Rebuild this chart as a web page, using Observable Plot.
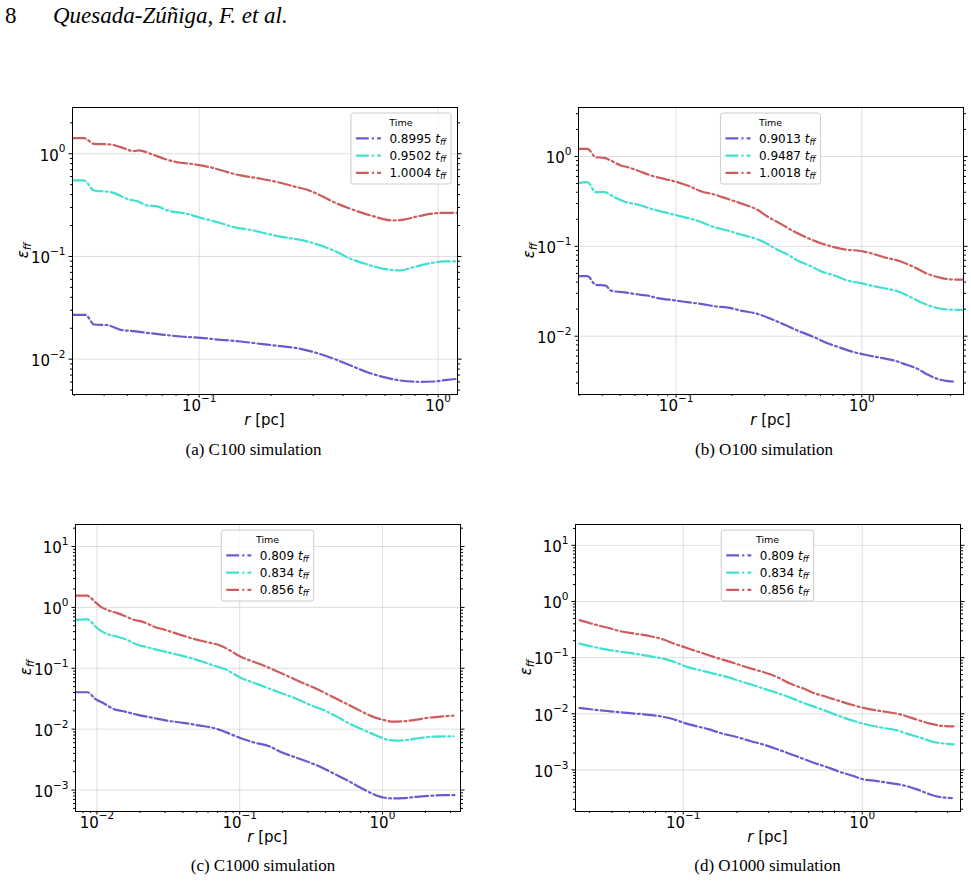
<!DOCTYPE html>
<html>
<head>
<meta charset="utf-8">
<script src="https://cdn.jsdelivr.net/npm/d3@7"></script>
<script src="https://cdn.jsdelivr.net/npm/@observablehq/plot@0.6"></script>
<style>
  html, body { margin: 0; padding: 0; background: #fff; }
  #page { position: relative; width: 971px; height: 881px; overflow: hidden; background: #fff; }
  .holder { position: absolute; }
  .holder svg { max-width: none; display: block; }
</style>
</head>
<body>
<div id="page"></div>
<script>
// ---- Star-formation efficiency per free-fall time vs radius, four simulations ----

// (a) C100
const c100Times = ["0.8995", "0.9502", "1.0004"];
const c100_t08995 = [[0.0296,0.027],[0.03345,0.027],[0.0363,0.02176],[0.0412,0.02144],[0.0469,0.0193],[0.0533,0.01874],[0.0606,0.01805],[0.0712,0.01726],[0.0836,0.01663],[0.1013,0.01614],[0.1228,0.01543],[0.149,0.01486],[0.1806,0.0141],[0.219,0.01338],[0.2655,0.01262],[0.3117,0.01144],[0.366,0.01009],[0.43,0.00868],[0.505,0.00747],[0.5925,0.00668],[0.6959,0.0062],[0.8436,0.00602],[0.959,0.00606],[1.09,0.0063],[1.201,0.00643]];
const c100_t09502 = [[0.0296,0.55],[0.0329,0.55],[0.0363,0.439],[0.0426,0.423],[0.0516,0.356],[0.055,0.346],[0.0606,0.314],[0.0667,0.307],[0.0735,0.281],[0.0891,0.26],[0.1013,0.238],[0.119,0.216],[0.1396,0.193],[0.1693,0.179],[0.1926,0.166],[0.226,0.154],[0.2655,0.145],[0.3117,0.131],[0.366,0.114],[0.43,0.0949],[0.505,0.0836],[0.5925,0.0758],[0.6959,0.0731],[0.791,0.0787],[0.929,0.0861],[1.056,0.0894],[1.201,0.0894]];
const c100_t10004 = [[0.0296,1.42],[0.0329,1.42],[0.0363,1.25],[0.0426,1.23],[0.0469,1.16],[0.0533,1.06],[0.0559,1.08],[0.0626,1.0],[0.0712,0.894],[0.0836,0.817],[0.092,0.799],[0.1013,0.77],[0.115,0.725],[0.131,0.663],[0.149,0.615],[0.1806,0.571],[0.212,0.53],[0.249,0.481],[0.283,0.446],[0.322,0.393],[0.366,0.338],[0.43,0.291],[0.521,0.251],[0.652,0.224],[0.718,0.228],[0.817,0.245],[0.929,0.26],[1.056,0.266],[1.201,0.266]];

// (b) O100
const o100Times = ["0.9013", "0.9487", "1.0018"];
const o100_t09013 = [[0.03002,0.04655],[0.0333,0.04655],[0.0369,0.0373],[0.0418,0.0366],[0.04445,0.0322],[0.0547,0.0304],[0.0645,0.02884],[0.0701,0.02836],[0.0793,0.0265],[0.0936,0.0254],[0.115,0.0239],[0.1358,0.0229],[0.1602,0.0216],[0.197,0.0205],[0.223,0.0193],[0.2742,0.01772],[0.3236,0.0156],[0.3817,0.01349],[0.4502,0.01156],[0.5537,0.00975],[0.6533,0.00836],[0.7707,0.00742],[0.9093,0.00664],[1.073,0.00614],[1.266,0.00574],[1.493,0.00536],[1.69,0.00492],[1.994,0.00433],[2.258,0.00374],[2.556,0.00335],[2.893,0.00316],[3.143,0.00313]];
const o100_t09487 = [[0.03002,0.509],[0.0333,0.518],[0.0369,0.401],[0.04095,0.401],[0.0464,0.353],[0.0525,0.3155],[0.0619,0.292],[0.0672,0.2776],[0.0761,0.255],[0.0862,0.24],[0.1017,0.2204],[0.12,0.2024],[0.1415,0.1811],[0.1602,0.1634],[0.189,0.15],[0.223,0.1354],[0.263,0.1233],[0.2979,0.1113],[0.337,0.0962],[0.3977,0.0811],[0.4502,0.0696],[0.5312,0.0601],[0.6014,0.0529],[0.7096,0.0474],[0.8372,0.0417],[0.9877,0.0389],[1.165,0.036],[1.375,0.0336],[1.556,0.0317],[1.762,0.0284],[2.079,0.0239],[2.453,0.021],[2.893,0.0198],[3.485,0.0196]];
const o100_t10018 = [[0.03002,1.217],[0.0333,1.217],[0.0369,0.983],[0.04095,0.966],[0.04445,0.903],[0.0503,0.794],[0.0547,0.761],[0.0619,0.699],[0.0731,0.615],[0.0862,0.564],[0.0975,0.531],[0.115,0.476],[0.1358,0.411],[0.1602,0.378],[0.189,0.338],[0.2324,0.292],[0.2742,0.255],[0.3103,0.215],[0.3662,0.178],[0.4319,0.146],[0.5098,0.1243],[0.6014,0.1084],[0.7096,0.0979],[0.8372,0.0914],[0.9478,0.0899],[1.118,0.0839],[1.319,0.0757],[1.622,0.0678],[1.913,0.0586],[2.258,0.0494],[2.664,0.0446],[3.143,0.0427],[3.485,0.0427]];

// (c) C1000
const c1000Times = ["0.809", "0.834", "0.856"];
const c1000_t0809 = [[0.00717,0.0404],[0.0086,0.0404],[0.00974,0.03137],[0.01114,0.02661],[0.01308,0.02148],[0.01537,0.01966],[0.01905,0.01733],[0.02492,0.01527],[0.0309,0.0138],[0.04044,0.01264],[0.0529,0.01142],[0.0656,0.01045],[0.073,0.00969],[0.0858,0.00833],[0.1008,0.00716],[0.125,0.00607],[0.1635,0.00515],[0.1921,0.00426],[0.238,0.00353],[0.2953,0.00295],[0.3661,0.00241],[0.4538,0.001875],[0.5627,0.001456],[0.6977,0.001103],[0.865,0.000857],[1.016,0.000755],[1.194,0.000727],[1.403,0.000736],[1.739,0.000774],[2.157,0.000804],[2.674,0.000825],[3.227,0.000825]];
const c1000_t0834 = [[0.00717,0.626],[0.0086,0.634],[0.00974,0.4867],[0.01055,0.418],[0.01207,0.3594],[0.0138,0.3333],[0.0162,0.2936],[0.01905,0.246],[0.0224,0.2223],[0.02775,0.196],[0.0363,0.1684],[0.0475,0.1429],[0.0589,0.1213],[0.0692,0.1069],[0.0813,0.0942],[0.0905,0.0809],[0.1063,0.0669],[0.1319,0.0554],[0.1635,0.0458],[0.2027,0.0379],[0.2513,0.03137],[0.3115,0.025],[0.3862,0.02067],[0.4789,0.01606],[0.5937,0.01216],[0.736,0.00969],[0.9127,0.00782],[1.072,0.00672],[1.26,0.00647],[1.48,0.00663],[1.835,0.00716],[2.275,0.00752],[3.142,0.00762]];
const c1000_t0856 = [[0.00717,1.556],[0.00851,1.556],[0.00974,1.224],[0.01055,1.039],[0.01207,0.892],[0.0138,0.807],[0.01537,0.738],[0.01806,0.626],[0.0212,0.5736],[0.02492,0.4867],[0.0309,0.418],[0.03833,0.3549],[0.0475,0.305],[0.0589,0.2688],[0.073,0.2368],[0.0858,0.196],[0.1008,0.156],[0.1184,0.1341],[0.1468,0.111],[0.182,0.0895],[0.2258,0.0713],[0.2798,0.0568],[0.347,0.0458],[0.43,0.0356],[0.533,0.02765],[0.661,0.02148],[0.82,0.01668],[1.016,0.01415],[1.194,0.01329],[1.403,0.01346],[1.739,0.01434],[2.044,0.01527],[2.533,0.01606],[3.142,0.01668]];

// (d) O1000
const o1000Times = ["0.809", "0.834", "0.856"];
const o1000_t0809 = [[0.02636,0.0127],[0.03155,0.01187],[0.03911,0.01108],[0.04844,0.01035],[0.06003,0.0098],[0.0744,0.00903],[0.0883,0.00798],[0.1004,0.00696],[0.1192,0.00598],[0.1415,0.00522],[0.161,0.00455],[0.1994,0.00386],[0.2367,0.00328],[0.2811,0.00282],[0.3197,0.00246],[0.3795,0.00203],[0.4503,0.001654],[0.5347,0.001346],[0.6348,0.001127],[0.7536,0.000918],[0.8944,0.000779],[0.983,0.000698],[1.207,0.000634],[1.433,0.000584],[1.702,0.000531],[2.02,0.000451],[2.398,0.000367],[2.728,0.000329],[3.169,0.000316]];
const o1000_t0834 = [[0.02636,0.1783],[0.03155,0.1554],[0.03911,0.1356],[0.04844,0.1232],[0.05751,0.1135],[0.0683,0.1031],[0.0811,0.0924],[0.0922,0.0806],[0.1048,0.0684],[0.1245,0.0596],[0.1477,0.052],[0.1754,0.0454],[0.1994,0.0396],[0.2367,0.0336],[0.2811,0.0281],[0.3337,0.02352],[0.3961,0.01942],[0.4702,0.0156],[0.558,0.01288],[0.6628,0.01049],[0.7863,0.00854],[0.9337,0.00715],[1.108,0.00624],[1.316,0.00559],[1.562,0.00508],[1.777,0.00443],[2.109,0.00376],[2.503,0.00315],[2.909,0.00294],[3.237,0.00286]];
const o1000_t0856 = [[0.02636,0.4648],[0.03155,0.3943],[0.03747,0.3439],[0.04446,0.2958],[0.0528,0.2688],[0.0654,0.2409],[0.0776,0.2101],[0.0883,0.1783],[0.1004,0.1554],[0.1142,0.1356],[0.1299,0.1183],[0.1477,0.1031],[0.1831,0.084],[0.2173,0.0703],[0.2579,0.0596],[0.3062,0.0506],[0.3481,0.0424],[0.3961,0.0345],[0.4702,0.0281],[0.5347,0.02352],[0.6348,0.01995],[0.7536,0.0167],[0.8944,0.01418],[1.062,0.01236],[1.26,0.01123],[1.496,0.01035],[1.702,0.0094],[2.02,0.00787],[2.398,0.00668],[2.847,0.00607],[3.237,0.00598]];

// Major tick values (labelled as powers of ten)
const xTicksC100 = [0.1, 1];
const xTicksO100 = [0.1, 1];
const xTicksC1000 = [0.01, 0.1, 1];
const xTicksO1000 = [0.1, 1];
const yTicksC100 = [0.01, 0.1, 1];
const yTicksO100 = [0.01, 0.1, 1];
const yTicksC1000 = [0.001, 0.01, 0.1, 1, 10];
const yTicksO1000 = [0.001, 0.01, 0.1, 1, 10];

const captions = ["(a) C100 simulation", "(b) O100 simulation", "(c) C1000 simulation", "(d) O1000 simulation"];
const headerPage = "8";
const headerAuthors = "Quesada-Zúñiga, F. et al.";

const lineColors = ["#6a5acd", "#40e0d0", "#cd5c5c"]; // slateblue, turquoise, indianred
const dashDot = "12.8,3.2,2,3.2";

const panels = [
  {left: 72,  top: 107, w: 385, h: 287, xDomain: [0.0295, 1.205], yDomain: [0.00453, 2.82],
   xTicks: xTicksC100, yTicks: yTicksC100, times: c100Times, series: [c100_t08995, c100_t09502, c100_t10004],
   legend: "right", caption: captions[0], capX: 253.5, capY: 455},
  {left: 578, top: 107, w: 385, h: 287, xDomain: [0.0298, 3.53], yDomain: [0.002244, 3.51],
   xTicks: xTicksO100, yTicks: yTicksO100, times: o100Times, series: [o100_t09013, o100_t09487, o100_t10018],
   legend: "center", caption: captions[1], capX: 764, capY: 455},
  {left: 75,  top: 524, w: 385, h: 287, xDomain: [0.00708, 3.52], yDomain: [0.000444, 23],
   xTicks: xTicksC1000, yTicks: yTicksC1000, times: c1000Times, series: [c1000_t0809, c1000_t0834, c1000_t0856],
   legend: "center", caption: captions[2], capX: 263, capY: 871},
  {left: 575, top: 524, w: 385, h: 287, xDomain: [0.025, 3.54], yDomain: [0.000182, 23.5],
   xTicks: xTicksO1000, yTicks: yTicksO1000, times: o1000Times, series: [o1000_t0809, o1000_t0834, o1000_t0856],
   legend: "center", caption: captions[3], capX: 767.5, capY: 871}
];

const page = document.getElementById("page");

// Minor ticks at 2..9 × 10^n inside a log domain
function minorTicks([lo, hi]) {
  const out = [];
  for (let e = Math.floor(Math.log10(lo)); e <= Math.ceil(Math.log10(hi)); e++) {
    for (let k = 2; k <= 9; k++) {
      const v = +(k * Math.pow(10, e)).toPrecision(6);
      if (v >= lo && v <= hi) out.push(v);
    }
  }
  return out;
}

// Page-level text: running header and sub-figure captions
const bg = d3.select(page).append("svg")
  .attr("width", 971).attr("height", 881)
  .style("position", "absolute").style("left", 0).style("top", 0);
bg.append("text").attr("x", 5).attr("y", 23)
  .attr("font-family", "'Liberation Serif'").attr("font-size", 23).text(headerPage);
bg.append("text").attr("x", 53).attr("y", 23)
  .attr("font-family", "'Liberation Serif'").attr("font-style", "italic").attr("font-size", 23).text(headerAuthors);
for (const p of panels) {
  bg.append("text").attr("x", p.capX).attr("y", p.capY).attr("text-anchor", "middle")
    .attr("font-family", "'Liberation Serif'").attr("font-size", 17).text(p.caption);
}

const mL = 72, mR = 8, mT = 10, mB = 55;
const expo = d => String(Math.round(Math.log10(d)));

for (const p of panels) {
  const W = p.w, H = p.h;
  const minX = minorTicks(p.xDomain), minY = minorTicks(p.yDomain);
  const svg = Plot.plot({
    width: mL + W + mR,
    height: mT + H + mB,
    marginLeft: mL, marginRight: mR, marginTop: mT, marginBottom: mB,
    x: {type: "log", domain: p.xDomain},
    y: {type: "log", domain: p.yDomain},
    style: {fontFamily: "'DejaVu Sans'", fontSize: "15px", color: "#000", background: "none", overflow: "visible"},
    marks: [
      Plot.gridX(p.xTicks, {stroke: "#b0b0b0", strokeOpacity: 0.4, strokeWidth: 1}),
      Plot.gridY(p.yTicks, {stroke: "#b0b0b0", strokeOpacity: 0.4, strokeWidth: 1}),
      ...p.series.map((s, i) => Plot.line(s, {
        x: d => d[0], y: d => d[1], stroke: lineColors[i], strokeWidth: 2.2,
        strokeDasharray: dashDot, curve: "monotone-x", clip: true
      })),
      Plot.frame({stroke: "#000", strokeWidth: 1}),
      Plot.axisX(p.xTicks, {tickSize: 3.5, tickPadding: 2, tickFormat: expo, label: null}),
      Plot.axisX(minX, {tickSize: 2, fill: "none", label: null}),
      Plot.axisY(p.yTicks, {tickSize: 3.5, tickPadding: 3.5, tickFormat: expo, label: null}),
      Plot.axisY(minY, {tickSize: 2, fill: "none", label: null}),
      Plot.axisY(p.yTicks, {anchor: "right", tickSize: 3.5, fill: "none", label: null}),
      Plot.axisY(minY, {anchor: "right", tickSize: 2, fill: "none", label: null})
    ]
  });

  const holder = document.createElement("div");
  holder.className = "holder";
  holder.style.left = (p.left - mL) + "px";
  holder.style.top = (p.top - mT) + "px";
  holder.style.width = (mL + W + mR) + "px";
  holder.appendChild(svg);
  page.appendChild(holder);

  const s = d3.select(svg);

  // Tick labels as 10 with a raised exponent
  s.selectAll('g[aria-label="x-axis tick label"] text, g[aria-label="y-axis tick label"] text').each(function () {
    const e = this.textContent;
    if (!e) return;
    const t = d3.select(this);
    t.text("10");
    t.append("tspan").attr("dy", "-0.78em").attr("font-size", "70%").text(e.replace("-", "\u2212"));
  });
  s.selectAll('g[aria-label="y-axis tick label"] text').attr("transform", function () {
    const tr = this.getAttribute("transform") || "";
    return tr + " translate(0,2)";
  });

  // Axis titles
  const xl = s.append("text").attr("x", mL + W / 2).attr("y", mT + H + 31)
    .attr("text-anchor", "middle").attr("font-size", 15);
  xl.append("tspan").attr("font-style", "italic").text("r");
  xl.append("tspan").text(" [pc]");

  const yl = s.append("text")
    .attr("transform", `translate(${mL - 44},${mT + H / 2}) rotate(-90)`)
    .attr("text-anchor", "middle").attr("font-size", 15);
  yl.append("tspan").attr("font-style", "italic").text("\u03b5");
  yl.append("tspan").attr("font-style", "italic").attr("font-size", "70%").attr("dy", "0.3em").text("ff");

  // Legend titled "Time"
  const g = s.append("g").attr("text-anchor", "start");
  const box = g.append("rect");
  const labels = p.times.map(t => {
    const txt = g.append("text").attr("font-size", 12).attr("text-anchor", "start");
    txt.append("tspan").text(t + " ");
    txt.append("tspan").attr("font-style", "italic").text("t");
    txt.append("tspan").attr("font-style", "italic").attr("font-size", "70%").attr("dy", "0.25em").text("ff");
    return txt;
  });
  let textW = d3.max(labels, l => l.node().getComputedTextLength());
  if (!textW) textW = 56;
  const lw = 5 + 25 + 8.5 + textW + 5;
  const lh = 71;
  const x0 = p.legend === "right" ? mL + W - 6 - lw : mL + W / 2 - lw / 2;
  const y0 = mT + 6;
  box.attr("x", x0).attr("y", y0).attr("width", lw).attr("height", lh).attr("rx", 2.5)
    .attr("fill", "#fff").attr("fill-opacity", 0.8).attr("stroke", "#cccccc").attr("stroke-width", 1);
  g.append("text").attr("x", x0 + lw / 2).attr("y", y0 + 12.5).attr("text-anchor", "middle")
    .attr("font-size", 9.5).text("Time");
  labels.forEach((txt, i) => {
    const cy = y0 + 25.3 + i * 17.3;
    g.insert("line", "text")
      .attr("x1", x0 + 5).attr("x2", x0 + 30).attr("y1", cy).attr("y2", cy)
      .attr("stroke", lineColors[i]).attr("stroke-width", 2.2).attr("stroke-dasharray", dashDot);
    txt.attr("x", x0 + 38.5).attr("y", cy + 4.3);
  });
}
</script>
</body>
</html>
